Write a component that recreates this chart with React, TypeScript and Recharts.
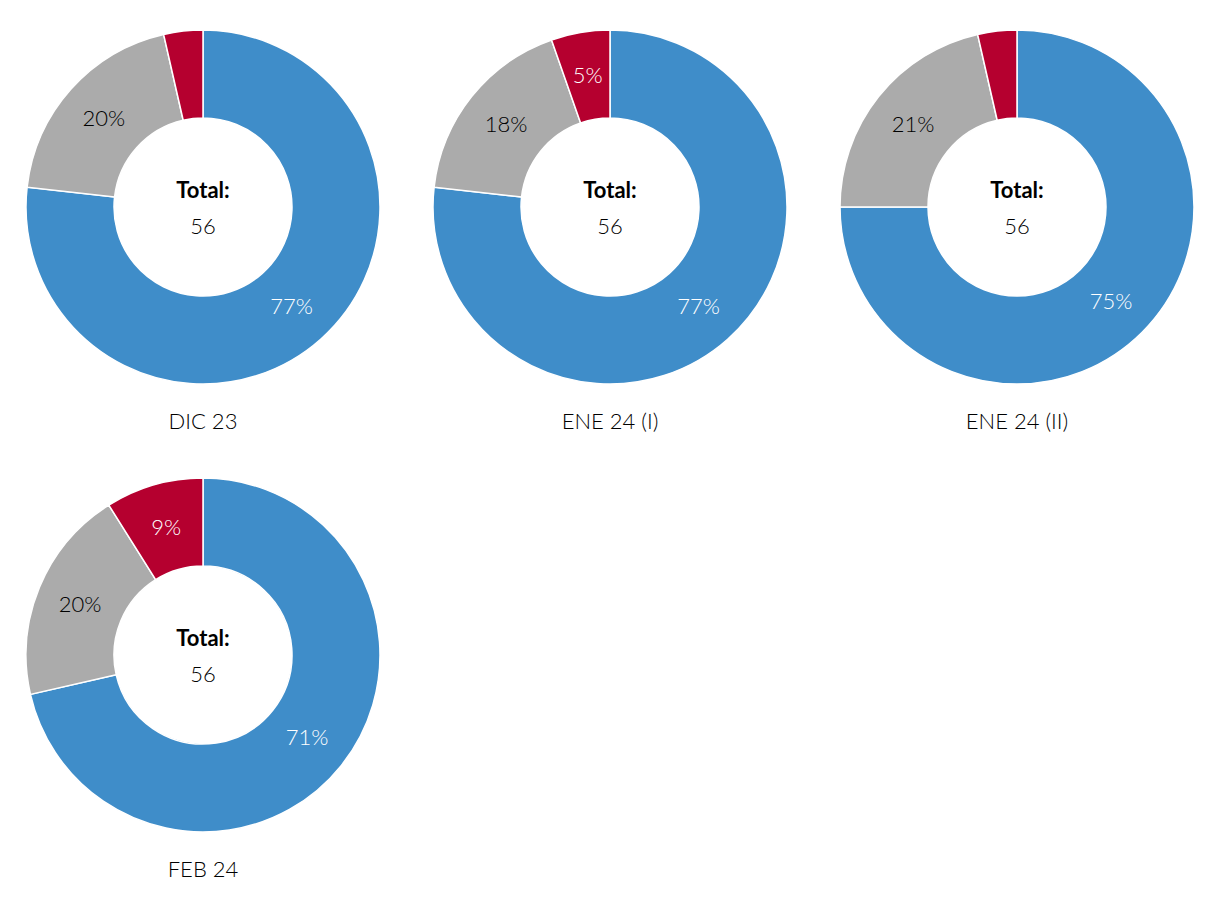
import { PieChart, Pie, Cell } from 'recharts';

const categories = ['DIC 23', 'ENE 24 (I)', 'ENE 24 (II)', 'FEB 24'];
const seriesNames = ['Azul', 'Gris', 'Rojo'];
const blueValues = [43, 43, 42, 40];
const greyValues = [11, 10, 12, 11];
const redValues = [2, 3, 2, 5];
const totals = [56, 56, 56, 56];

const COLORS = ['#3F8DC9', '#ABABAB', '#B5002F'];
const LABEL_COLORS = ['#ffffff', '#000000', '#ffffff'];
const FONT = 'Lato, "Open Sans", sans-serif';
const RAD = Math.PI / 180;
const CX = 195;
const CY = 199;

const renderPct = (props: any) => {
  const { cx, cy, midAngle, innerRadius, outerRadius, percent, index } = props;
  if (percent < 0.05) return null;
  const r = (innerRadius + outerRadius) / 2;
  const x = cx + r * Math.cos(-midAngle * RAD);
  const y = cy + r * Math.sin(-midAngle * RAD);
  return (
    <text
      x={x}
      y={y - 1}
      fill={LABEL_COLORS[index]}
      textAnchor="middle"
      dominantBaseline="central"
      fontFamily={FONT}
      fontWeight={300}
      fontSize={22}
    >
      {`${Math.round(percent * 100)}%`}
    </text>
  );
};

function Donut({ idx }: { idx: number }) {
  const data = seriesNames.map((name, i) => ({
    name,
    value: [blueValues, greyValues, redValues][i][idx],
  }));
  return (
    <div style={{ position: 'relative', width: 407, height: 448 }}>
      <PieChart width={407} height={448} margin={{ top: 0, right: 0, bottom: 0, left: 0 }}>
        <Pie
          data={data}
          dataKey="value"
          cx={CX}
          cy={CY}
          innerRadius={89}
          outerRadius={177}
          startAngle={90}
          endAngle={-270}
          stroke="#ffffff"
          strokeWidth={1.5}
          label={renderPct}
          labelLine={false}
          isAnimationActive={false}
        >
          {data.map((_, i) => (
            <Cell key={i} fill={COLORS[i]} />
          ))}
        </Pie>
      </PieChart>
      <svg width={407} height={448} style={{ position: 'absolute', left: 0, top: 0, pointerEvents: 'none' }}>
        <g fontFamily={FONT} fill="#000" textAnchor="middle">
          <text x={CX} y={CY - 18} dominantBaseline="central" fontWeight={700} fontSize={22}>
            Total:
          </text>
          <text x={CX} y={CY + 18} dominantBaseline="central" fontWeight={300} fontSize={22}>
            {totals[idx]}
          </text>
          <text x={CX} y={CY + 213} dominantBaseline="central" fontWeight={300} fontSize={22}>
            {categories[idx]}
          </text>
        </g>
      </svg>
    </div>
  );
}

export default function App() {
  return (
    <div style={{ display: 'grid', gridTemplateColumns: '407px 407px 407px', width: 1221, background: '#fff' }}>
      {categories.map((_, i) => (
        <Donut key={i} idx={i} />
      ))}
    </div>
  );
}
